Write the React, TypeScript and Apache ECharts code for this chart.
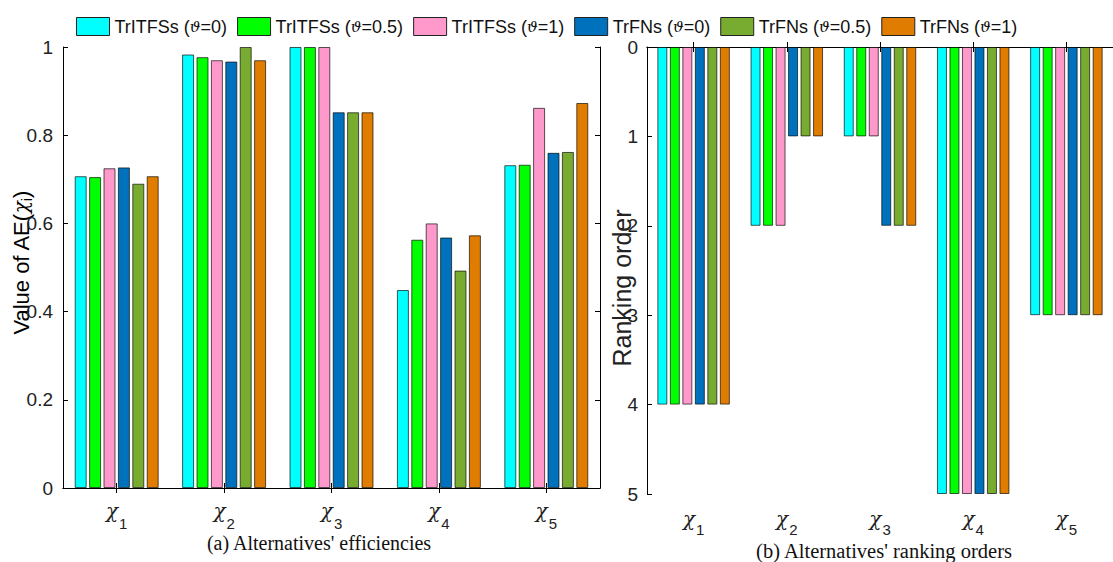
import React, { useEffect, useRef } from 'react';
import * as echarts from 'echarts';

const categories = ['χ1', 'χ2', 'χ3', 'χ4', 'χ5'];
const seriesNames = ['TrITFSs (ϑ=0)', 'TrITFSs (ϑ=0.5)', 'TrITFSs (ϑ=1)', 'TrFNs (ϑ=0)', 'TrFNs (ϑ=0.5)', 'TrFNs (ϑ=1)'];
const colors = ['#00FFFF', '#00FF00', '#FF99CC', '#0072BD', '#77AC30', '#E07C00'];

// (a) Alternatives' efficiencies
const effTrITFS0 = [0.707, 0.983, 1.0, 0.449, 0.732];
const effTrITFS05 = [0.705, 0.977, 1.0, 0.563, 0.733];
const effTrITFS1 = [0.725, 0.970, 1.0, 0.600, 0.862];
const effTrFN0 = [0.727, 0.967, 0.852, 0.568, 0.760];
const effTrFN05 = [0.690, 1.0, 0.852, 0.493, 0.762];
const effTrFN1 = [0.707, 0.970, 0.852, 0.573, 0.873];

// (b) Alternatives' ranking orders
const rankTrITFS0 = [4, 2, 1, 5, 3];
const rankTrITFS05 = [4, 2, 1, 5, 3];
const rankTrITFS1 = [4, 2, 1, 5, 3];
const rankTrFN0 = [4, 1, 2, 5, 3];
const rankTrFN05 = [4, 1, 2, 5, 3];
const rankTrFN1 = [4, 1, 2, 5, 3];

const effData = [effTrITFS0, effTrITFS05, effTrITFS1, effTrFN0, effTrFN05, effTrFN1];
const rankData = [rankTrITFS0, rankTrITFS05, rankTrITFS1, rankTrFN0, rankTrFN05, rankTrFN1];

const captionA = "(a) Alternatives' efficiencies";
const captionB = "(b) Alternatives' ranking orders";

const SANS = "'Liberation Sans', Arial, sans-serif";
const SERIF = "'Liberation Serif', 'Times New Roman', serif";
const GREEK = "'DejaVu Serif', serif";

const chiRich = (subLine: number) => ({
  c: { fontFamily: GREEK, fontStyle: 'italic', fontSize: 20, color: '#222', lineHeight: 20, verticalAlign: 'top' },
  s: { fontFamily: SANS, fontSize: 15, color: '#222', lineHeight: subLine, verticalAlign: 'bottom', padding: [0, 0, 0, 1] },
});

export default function App() {
  const ref = useRef<HTMLDivElement>(null);
  useEffect(() => {
    if (!ref.current) return;
    const chart = echarts.init(ref.current, null, { renderer: 'svg' });
    const axisLine = { show: true, lineStyle: { color: '#000', width: 1 } };
    const tickIn = { show: true, inside: true, length: 5, alignWithLabel: true, lineStyle: { color: '#000' } };
    const fmt = (v: string) => `{c|χ}{s|${v.slice(1)}}`;
    const series: any[] = [];
    seriesNames.forEach((name, i) => {
      series.push({
        type: 'bar', name, xAxisIndex: 0, yAxisIndex: 0,
        data: effData[i], barWidth: 12, barGap: '20%',
        itemStyle: { color: colors[i], borderColor: 'rgba(0,0,0,0.65)', borderWidth: 1 },
      });
    });
    seriesNames.forEach((name, i) => {
      series.push({
        type: 'bar', name, xAxisIndex: 2, yAxisIndex: 2,
        data: rankData[i], barWidth: 10, barGap: '25%',
        itemStyle: { color: colors[i], borderColor: 'rgba(0,0,0,0.65)', borderWidth: 1 },
      });
    });
    chart.setOption({
      animation: false,
      backgroundColor: '#fff',
      legend: {
        data: seriesNames,
        left: 71, top: 12,
        itemWidth: 33, itemHeight: 18, itemGap: 10,
        icon: 'rect',
        itemStyle: { borderColor: '#222', borderWidth: 1 },
        formatter: (n: string) => n.replace('ϑ', '{v|ϑ}'),
        textStyle: {
          fontFamily: SANS, fontSize: 18, color: '#111',
          rich: { v: { fontFamily: GREEK, fontStyle: 'italic', fontSize: 15, color: '#111' } },
        },
      },
      grid: [
        { left: 63, top: 47, width: 537, height: 441 },
        { left: 647, top: 47, width: 470, height: 447 },
      ],
      xAxis: [
        {
          type: 'category', gridIndex: 0, data: categories, position: 'bottom', axisLine, axisTick: tickIn,
          axisLabel: { margin: 13, formatter: fmt, rich: chiRich(30) },
        },
        { type: 'category', gridIndex: 0, data: categories, position: 'top', axisLine, axisTick: tickIn, axisLabel: { show: false } },
        {
          type: 'category', gridIndex: 1, data: categories, position: 'bottom', axisLine, axisTick: tickIn,
          axisLabel: { margin: 15, formatter: fmt, rich: chiRich(28) },
        },
        { type: 'category', gridIndex: 1, data: categories, position: 'top', axisLine, axisTick: tickIn, axisLabel: { show: false } },
      ],
      yAxis: [
        {
          type: 'value', gridIndex: 0, min: 0, max: 1, interval: 0.2, position: 'left',
          axisLine, axisTick: { show: true, inside: true, length: 5, lineStyle: { color: '#000' } },
          splitLine: { show: false },
          axisLabel: { margin: 10, fontFamily: SANS, fontSize: 19, color: '#222' },
        },
        {
          type: 'value', gridIndex: 0, min: 0, max: 1, interval: 0.2, position: 'right',
          axisLine, axisTick: { show: true, inside: true, length: 5, lineStyle: { color: '#000' } },
          splitLine: { show: false }, axisLabel: { show: false },
        },
        {
          type: 'value', gridIndex: 1, min: 0, max: 5, interval: 1, inverse: true, position: 'left',
          axisLine, axisTick: { show: true, inside: true, length: 5, lineStyle: { color: '#000' } },
          splitLine: { show: false },
          axisLabel: { margin: 9, fontFamily: SANS, fontSize: 19, color: '#222' },
        },
      ],
      series,
      graphic: [
        {
          type: 'text', x: 21, y: 263, rotation: Math.PI / 2,
          style: {
            text: '{a|Value of AE(}{c|χ}{s|i}{a|)}',
            align: 'center', verticalAlign: 'middle',
            rich: {
              a: { fontFamily: SANS, fontSize: 22, color: '#222' },
              c: { fontFamily: GREEK, fontStyle: 'italic', fontSize: 20, color: '#222' },
              s: { fontFamily: SANS, fontSize: 14, color: '#222', padding: [12, 0, 0, 0] },
            },
          },
        },
        {
          type: 'text', x: 622, y: 288, rotation: Math.PI / 2,
          style: { text: 'Ranking order', align: 'center', verticalAlign: 'middle', fontFamily: SANS, fontSize: 25, fill: '#222' },
        },
        {
          type: 'text', x: 319, y: 543,
          style: { text: captionA, align: 'center', verticalAlign: 'middle', fontFamily: SERIF, fontSize: 20, fill: '#111' },
        },
        {
          type: 'text', x: 884, y: 551,
          style: { text: captionB, align: 'center', verticalAlign: 'middle', fontFamily: SERIF, fontSize: 20.5, fill: '#111' },
        },
      ],
    });
    return () => chart.dispose();
  }, []);
  return <div ref={ref} style={{ position: 'fixed', left: 0, top: 0, width: 1113, height: 562 }} />;
}
